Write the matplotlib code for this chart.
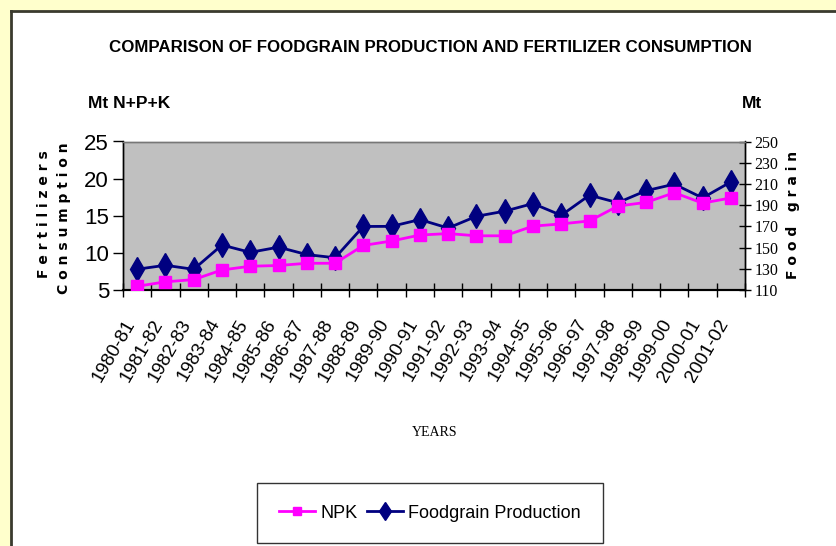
import matplotlib
matplotlib.use("Agg")
import matplotlib.pyplot as plt
import matplotlib.transforms as mtransforms
import numpy as np

years = ["1980-81", "1981-82", "1982-83", "1983-84", "1984-85", "1985-86",
         "1986-87", "1987-88", "1988-89", "1989-90", "1990-91", "1991-92",
         "1992-93", "1993-94", "1994-95", "1995-96", "1996-97", "1997-98",
         "1998-99", "1999-00", "2000-01", "2001-02"]
npk = [5.5, 6.1, 6.4, 7.7, 8.2, 8.3, 8.6, 8.6, 11.0, 11.6, 12.4, 12.6,
       12.3, 12.3, 13.6, 13.9, 14.3, 16.3, 16.8, 18.1, 16.7, 17.4]
foodgrain = [129.6, 133.3, 129.5, 152.4, 145.5, 150.4, 143.4, 140.4, 169.9,
             170.0, 176.4, 168.4, 179.5, 184.3, 191.5, 180.4, 199.4, 192.3,
             203.6, 209.8, 196.8, 211.9]
left_ticks = [5, 10, 15, 20, 25]
right_ticks = [110, 130, 150, 170, 190, 210, 230, 250]

sans = ["Liberation Sans", "DejaVu Sans"]
serif = ["Liberation Serif", "DejaVu Serif"]

fig = plt.figure(figsize=(8.37, 5.46), dpi=100)
fig.patch.set_facecolor("#FFFFCC")
W, H = 837, 546

# white panel with dark edge on top and left
panel = fig.add_axes([11 / W, 0, 1 - 11 / W, 1 - 11 / H])
panel.set_xlim(0, 1)
panel.set_ylim(0, 1)
panel.set_facecolor("white")
panel.set_xticks([])
panel.set_yticks([])
for s in ["right", "bottom"]:
    panel.spines[s].set_visible(False)
for s in ["top", "left"]:
    panel.spines[s].set_color("#3a3a2e")
    panel.spines[s].set_linewidth(2)

ax = fig.add_axes([123 / W, 1 - 290 / H, (745 - 123) / W, (290 - 141.5) / H])
x = np.arange(len(years))

ax2 = ax.twinx()
ax.set_zorder(ax2.get_zorder() + 1)
ax.patch.set_visible(False)
ax2.patch.set_visible(True)
ax2.patch.set_facecolor("#C0C0C0")

ax.plot(x, npk, color="#FF00FF", lw=2, marker="s", ms=8, label="NPK", zorder=3)
ax2.plot(x, foodgrain, color="#000080", lw=2, marker="d", ms=12,
         label="Foodgrain Production")

ax.set_xlim(-0.5, len(years) - 0.5)
ax.set_ylim(5, 25)
ax2.set_ylim(110, 250)

ax.set_yticks(left_ticks)
ax.set_yticklabels([str(v) for v in left_ticks], fontsize=16, family=sans)
ax.tick_params(axis="y", direction="out", length=7, width=1, pad=3)

ax2.set_yticks(right_ticks)
ax2.set_yticklabels([str(v) for v in right_ticks], fontsize=11.5, family=serif)
ax2.tick_params(axis="y", direction="inout", length=8, width=1, pad=3)

ax.set_xticks(x)
ax.set_xticklabels(years, rotation=60, ha="right", va="center",
                   rotation_mode="anchor", fontsize=13.5, family=sans)
ax.tick_params(axis="x", which="major", length=0, pad=22)
shift = mtransforms.ScaledTranslation(-6 / 100, 0, fig.dpi_scale_trans)
for lab in ax.get_xticklabels():
    lab.set_transform(lab.get_transform() + shift)
ax.set_xticks(np.arange(len(years) + 1) - 0.5, minor=True)
ax.tick_params(axis="x", which="minor", direction="inout", length=10, width=1)

for a in (ax, ax2):
    for s in a.spines.values():
        s.set_color("#777777")
        s.set_linewidth(1)
    a.spines["bottom"].set_color("black")
    a.spines["bottom"].set_linewidth(1.5)
    a.spines["left"].set_color("black")
    a.spines["right"].set_color("black")

fig.text(430 / W, 1 - 47 / H,
         "COMPARISON OF FOODGRAIN PRODUCTION AND FERTILIZER CONSUMPTION",
         ha="center", va="center", fontsize=12.2, fontweight="bold", family=sans)
fig.text(88 / W, 1 - 104 / H, "Mt N+P+K", ha="left", va="center",
         fontsize=12.5, fontweight="bold", family=sans)
fig.text(742 / W, 1 - 104 / H, "Mt", ha="left", va="center",
         fontsize=12.5, fontweight="bold", family=sans)
fig.text(44 / W, 1 - 214 / H, "F e r t i l i z e r s", rotation=90,
         ha="center", va="center", fontsize=10, fontweight="bold")
fig.text(64 / W, 1 - 218 / H, "C o n s u m p t i o n", rotation=90,
         ha="center", va="center", fontsize=10, fontweight="bold")
fig.text(793 / W, 1 - 215 / H, "F o o d   g r a i n", rotation=90,
         ha="center", va="center", fontsize=10, fontweight="bold")
fig.text(435 / W, 1 - 433 / H, "YEARS", ha="center", va="center",
         fontsize=10, family=serif)

h1, l1 = ax.get_legend_handles_labels()
h2, l2 = ax2.get_legend_handles_labels()
leg = fig.legend(h1 + h2, l1 + l2, loc="center", ncol=2,
                 bbox_to_anchor=(430 / W, 1 - 513 / H),
                 prop={"family": sans, "size": 13}, frameon=True,
                 fancybox=False, edgecolor="black", handlelength=2.0,
                 handletextpad=0.3, columnspacing=0.5, borderpad=1.2,
                 markerscale=0.8)
leg.get_frame().set_linewidth(1)

fig.savefig("out.png", dpi=100, facecolor=fig.get_facecolor())
